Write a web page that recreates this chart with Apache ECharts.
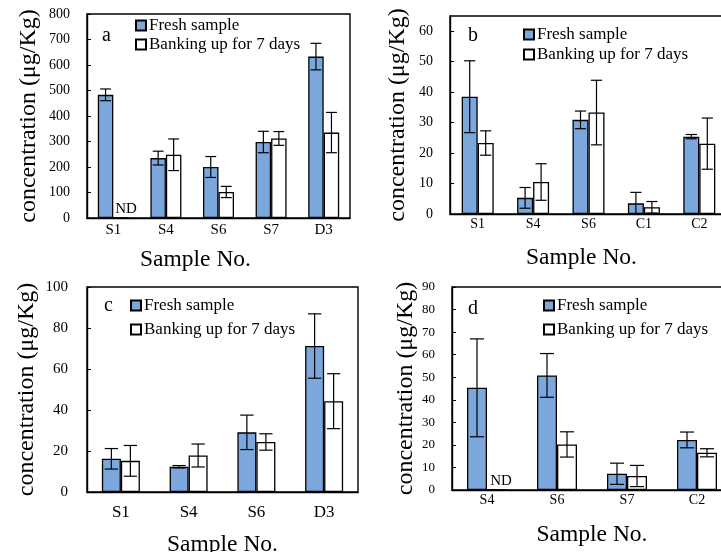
<!DOCTYPE html>
<html>
<head>
<meta charset="utf-8">
<script src="https://cdn.jsdelivr.net/npm/echarts@6/dist/echarts.min.js"></script>
<style>
  html, body { margin: 0; padding: 0; background: #fff; }
  #chart { width: 721px; height: 552px; }
</style>
</head>
<body>
<div id="chart"></div>
<script>
// panel a
const catsA = ['S1', 'S4', 'S6', 'S7', 'D3']
const freshA = [483, 235, 200, 298, 633]
const freshErrA = [23, 27, 41, 42, 52]
const bankA = [0, 248, 102, 312, 335]
const bankErrA = [0, 62, 22, 27, 79]
// panel b
const catsB = ['S1', 'S4', 'S6', 'C1', 'C2']
const freshB = [38.5, 5.3, 30.9, 3.5, 25.4]
const freshErrB = [11.8, 3.4, 2.9, 3.6, 0.7]
const bankB = [23.3, 10.5, 33.3, 2.2, 23.1]
const bankErrB = [4.0, 6.0, 10.6, 1.9, 8.4]
// panel c
const catsC = ['S1', 'S4', 'S6', 'D3']
const freshC = [16.2, 12.3, 29.1, 71.2]
const freshErrC = [5.0, 0.6, 8.4, 15.7]
const bankC = [15.2, 17.8, 24.4, 44.3]
const bankErrC = [7.5, 5.6, 4.0, 13.4]
// panel d
const catsD = ['S4', 'S6', 'S7', 'C2']
const freshD = [45.3, 50.8, 7.2, 22.2]
const freshErrD = [21.7, 9.7, 4.7, 3.5]
const bankD = [0, 20.2, 6.2, 16.5]
const bankErrD = [0, 5.6, 4.7, 1.8]

const FRESH = 'Fresh sample'
const BANK = 'Banking up for 7 days'
const FONT = 'Liberation Serif'

const panels = [
  { tag: 'a', cats: catsA, fresh: freshA, freshErr: freshErrA, bank: bankA, bankErr: bankErrA,
    max: 800, interval: 100, grid: { left: 87, top: 14, width: 263, height: 204 }, barWidth: 15.5,
    yFont: 14, yMargin: 17, yNameGap: 46, xFont: 15, xMargin: 5, xNameGap: 30, xNamePad: [0, 46, 0, 0],
    tagPos: [102, 26], legendPos: [135, 17], legendGap: 2, ndOffset: [5, 0] },
  { tag: 'b', cats: catsB, fresh: freshB, freshErr: freshErrB, bank: bankB, bankErr: bankErrB,
    max: 65, interval: 10, grid: { left: 450, top: 16, width: 277, height: 198 }, barWidth: 16,
    yFont: 14, yMargin: 17, yNameGap: 40, xFont: 14, xMargin: 3, xNameGap: 32, xNamePad: [0, 14, 0, 0],
    tagPos: [468, 26], legendPos: [523, 26], legendGap: 3, ndOffset: [0, 0] },
  { tag: 'c', cats: catsC, fresh: freshC, freshErr: freshErrC, bank: bankC, bankErr: bankErrC,
    max: 100, interval: 20, grid: { left: 87, top: 287, width: 271, height: 205 }, barWidth: 19,
    yFont: 15, yMargin: 19, yNameGap: 48, xFont: 17, xMargin: 12, xNameGap: 41, xNamePad: [0, 0, 0, 0],
    tagPos: [104, 296], legendPos: [130, 297], legendGap: 7, ndOffset: [0, 0] },
  { tag: 'd', cats: catsD, fresh: freshD, freshErr: freshErrD, bank: bankD, bankErr: bankErrD,
    max: 90, interval: 10, grid: { left: 452, top: 287, width: 280, height: 203 }, barWidth: 20,
    yFont: 13, yMargin: 17, yNameGap: 31, xFont: 14, xMargin: 3, xNameGap: 33, xNamePad: [0, 0, 0, 0],
    tagPos: [468, 299], legendPos: [543, 297], legendGap: 7, ndOffset: [4, 0] }
]

function errorBars(idx, values, errs, offset, cap) {
  return {
    type: 'custom',
    name: 'err' + idx,
    xAxisIndex: idx,
    yAxisIndex: idx,
    z: 10,
    silent: true,
    encode: { x: 0, y: [1, 2] },
    data: values.map((v, i) => [i, Math.max(0, v - errs[i]), v + errs[i], errs[i]]),
    renderItem: function(params, api) {
      if (!api.value(3)) return
      const lo = api.coord([api.value(0), api.value(1)])
      const hi = api.coord([api.value(0), api.value(2)])
      const x = lo[0] + offset
      const style = { stroke: '#000', lineWidth: 1.2 }
      return {
        type: 'group',
        children: [
          { type: 'line', shape: { x1: x, y1: lo[1], x2: x, y2: hi[1] }, style: style },
          { type: 'line', shape: { x1: x - cap / 2, y1: lo[1], x2: x + cap / 2, y2: lo[1] }, style: style },
          { type: 'line', shape: { x1: x - cap / 2, y1: hi[1], x2: x + cap / 2, y2: hi[1] }, style: style }
        ]
      }
    }
  }
}

const grid = []
const xAxis = []
const yAxis = []
const series = []
const legend = []
const title = []

panels.forEach((p, i) => {
  grid.push(Object.assign({
    show: true,
    borderColor: '#000',
    borderWidth: 1.4,
    backgroundColor: 'transparent',
    containLabel: false,
    outerBoundsMode: 'none'
  }, p.grid))
  xAxis.push({
    type: 'category',
    gridIndex: i,
    data: p.cats,
    name: 'Sample No.',
    nameLocation: 'middle',
    nameGap: p.xNameGap,
    nameTextStyle: { fontFamily: FONT, fontSize: 23.5, color: '#000', padding: p.xNamePad },
    axisLine: { lineStyle: { color: '#000', width: 1.4 } },
    axisTick: { show: false },
    axisLabel: { fontFamily: FONT, fontSize: p.xFont, color: '#000', margin: p.xMargin }
  })
  yAxis.push({
    type: 'value',
    gridIndex: i,
    min: 0,
    max: p.max,
    interval: p.interval,
    name: 'concentration (μg/Kg)',
    nameLocation: 'middle',
    nameGap: p.yNameGap,
    nameTextStyle: { fontFamily: FONT, fontSize: 24, color: '#000' },
    axisLine: { show: true, lineStyle: { color: '#000', width: 1.4 } },
    axisTick: { show: true, inside: true, length: 4, lineStyle: { color: '#000' } },
    splitLine: { show: false },
    axisLabel: { fontFamily: FONT, fontSize: p.yFont, color: '#000', margin: p.yMargin, showMaxLabel: p.max % p.interval === 0 }
  })
  series.push({
    type: 'bar',
    name: FRESH,
    xAxisIndex: i,
    yAxisIndex: i,
    data: p.fresh,
    barWidth: p.barWidth,
    barGap: '0%',
    itemStyle: { color: '#7ba7dc', borderColor: '#000', borderWidth: 1.3 }
  })
  series.push({
    type: 'bar',
    name: BANK,
    xAxisIndex: i,
    yAxisIndex: i,
    data: p.bank,
    barWidth: p.barWidth,
    barGap: '0%',
    itemStyle: { color: '#fff', borderColor: '#000', borderWidth: 1.3 },
    label: {
      show: true,
      position: 'top',
      distance: 1,
      offset: p.ndOffset,
      fontFamily: FONT,
      fontSize: 15,
      color: '#000',
      formatter: d => (d.value === 0 ? 'ND' : '')
    }
  })
  series.push(errorBars(i, p.fresh, p.freshErr, -p.barWidth / 2, p.barWidth * 0.7))
  series.push(errorBars(i, p.bank, p.bankErr, p.barWidth / 2, p.barWidth * 0.7))
  legend.push({
    data: [FRESH, BANK],
    orient: 'vertical',
    left: p.legendPos[0],
    top: p.legendPos[1],
    padding: 0,
    itemGap: p.legendGap,
    itemWidth: 10,
    itemHeight: 10,
    icon: 'rect',
    selectedMode: false,
    textStyle: { fontFamily: FONT, fontSize: 17, color: '#000', padding: [0, 0, 0, -2] }
  })
  title.push({
    text: p.tag,
    left: p.tagPos[0],
    top: p.tagPos[1],
    padding: 0,
    textStyle: { fontFamily: FONT, fontSize: 20, fontWeight: 'normal', color: '#000' }
  })
})

const chart = echarts.init(document.getElementById('chart'))
chart.setOption({
  backgroundColor: '#fff',
  animation: false,
  title: title,
  legend: legend,
  grid: grid,
  xAxis: xAxis,
  yAxis: yAxis,
  series: series
})
</script>
</body>
</html>
